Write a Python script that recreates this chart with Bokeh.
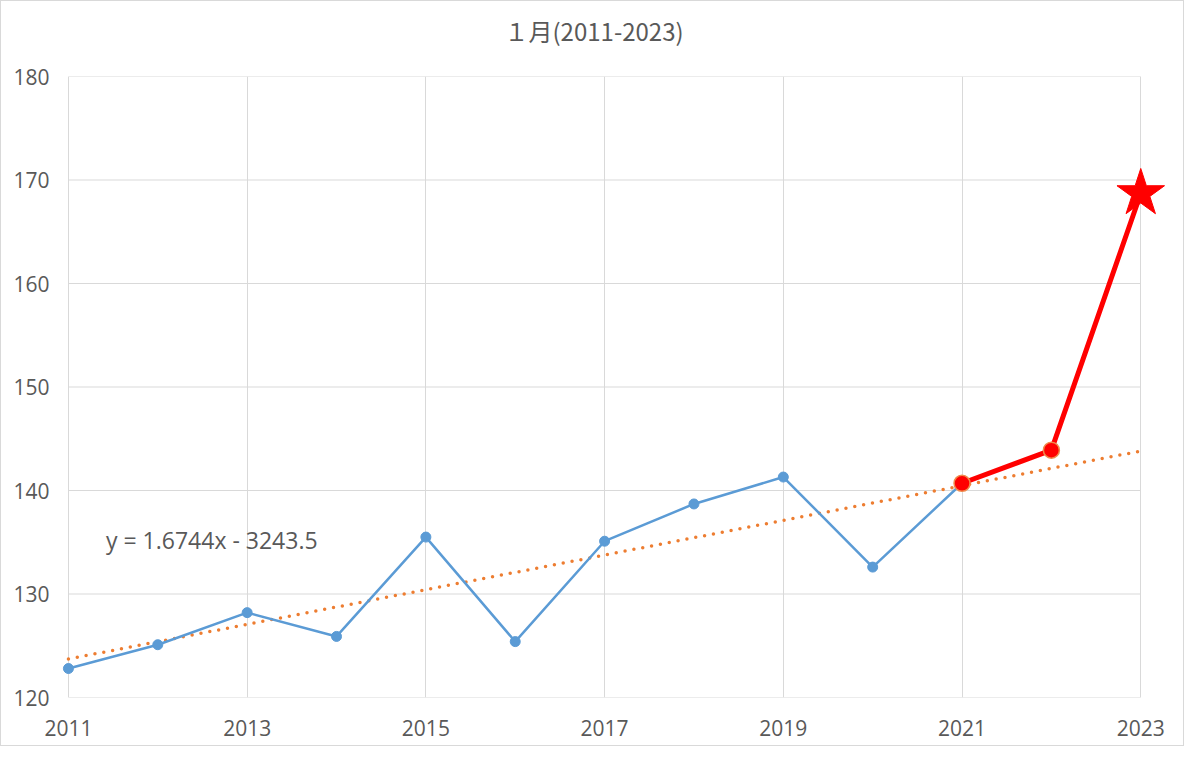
from bokeh.plotting import figure
from bokeh.models import FixedTicker, Range1d, Label
from bokeh.embed import file_html
from bokeh.resources import INLINE

years = [2011, 2012, 2013, 2014, 2015, 2016, 2017, 2018, 2019, 2020, 2021, 2022, 2023]
values = [122.8, 125.1, 128.2, 125.9, 135.5, 125.4, 135.1, 138.7, 141.3, 132.6, 140.7, 143.9, 168.7]
blue_years = years[:11]
blue_values = values[:11]
red_years = years[10:]
red_values = values[10:]
slope = 1.6744
intercept = -3243.5
trend_years = [2011, 2023]
trend_values = [slope * x + intercept for x in trend_years]
x_ticks = [2011, 2013, 2015, 2017, 2019, 2021, 2023]
y_ticks = [120, 130, 140, 150, 160, 170, 180]
title_text = "１月(2011-2023)"
eq_text = "y = 1.6744x - 3243.5"

FONT = "Open Sans"
GRAY = "#595959"
GRID = "#d9d9d9"

p = figure(width=1184, height=746, output_backend="svg", toolbar_location=None,
           x_range=Range1d(2010.9, 2023.4), y_range=Range1d(120, 180),
           min_border_left=58, min_border_right=9, min_border_top=75, min_border_bottom=50)
p.styles = {"border": "1px solid #d9d9d9", "box-sizing": "border-box"}
p.outline_line_color = None
p.background_fill_color = "white"
p.border_fill_color = "white"

p.title.text = title_text
p.title.text_font = "Noto Sans CJK JP"
p.title.text_font_size = "24px"
p.title.text_font_style = "normal"
p.title.text_color = GRAY
p.title.align = "left"
p.title.offset = 445
p.title.standoff = 0
p.title.padding = dict(top=0, right=0, bottom=29, left=0)

for ax in (p.xaxis[0], p.yaxis[0]):
    ax.axis_line_color = None
    ax.major_tick_line_color = None
    ax.minor_tick_line_color = None
    ax.major_label_text_color = GRAY
    ax.major_label_text_font = FONT
    ax.major_label_text_font_size = "21px"
p.xaxis.major_label_standoff = 16
p.yaxis.major_label_standoff = 4
p.xaxis.ticker = FixedTicker(ticks=x_ticks)
p.yaxis.ticker = FixedTicker(ticks=y_ticks)
p.xgrid.ticker = FixedTicker(ticks=x_ticks)
p.xgrid.grid_line_color = GRID
p.ygrid.grid_line_color = None

# horizontal gridlines limited to the data span
p.segment(x0=[x_ticks[0]] * len(y_ticks), x1=[x_ticks[-1]] * len(y_ticks),
          y0=y_ticks, y1=y_ticks, line_color=GRID, line_width=1)

# trend line
p.line(trend_years, trend_values, line_color="#ed7d31", line_width=3.5,
       line_dash="0 9", line_cap="round")

# blue series
p.line(blue_years, blue_values, line_color="#5b9bd5", line_width=2.5)
p.scatter(blue_years, blue_values, size=10, fill_color="#5b9bd5", line_color="#5b9bd5")

# red series
p.line(red_years, red_values, line_color="#ff0000", line_width=5)
p.scatter(red_years[:2], red_values[:2], size=16, fill_color="#ff0000",
          line_color="#f08a4b", line_width=1.5)
p.scatter(red_years[2:], red_values[2:], marker="star", size=50,
          fill_color="#ff0000", line_color="#ff0000")

eq = Label(x=2011.42, y=135.25, text=eq_text, text_font=FONT, text_font_size="23px",
           text_color=GRAY, text_align="left", text_baseline="middle")
p.add_layout(eq)

open("out.html", "w").write(file_html(p, INLINE))
